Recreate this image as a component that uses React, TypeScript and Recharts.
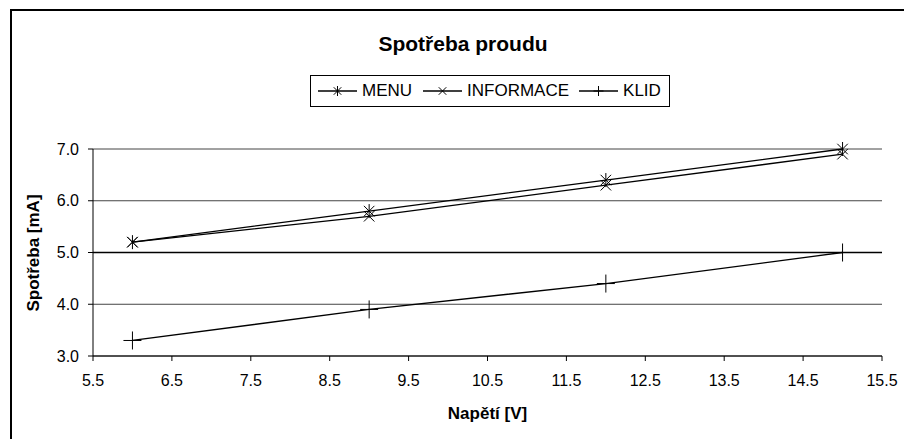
import {
  LineChart,
  Line,
  XAxis,
  YAxis,
  CartesianGrid,
  ReferenceLine,
} from "recharts";

const voltages = [6, 9, 12, 15];
const menuValues = [5.2, 5.8, 6.4, 7.0];
const infoValues = [5.2, 5.7, 6.3, 6.9];
const klidValues = [3.3, 3.9, 4.4, 5.0];
const xTicks = [5.5, 6.5, 7.5, 8.5, 9.5, 10.5, 11.5, 12.5, 13.5, 14.5, 15.5];
const yTicks = [3, 4, 5, 6, 7];

const data = voltages.map((v, i) => ({
  v,
  menu: menuValues[i],
  info: infoValues[i],
  klid: klidValues[i],
}));

const FONT = "'Liberation Sans', Arial, sans-serif";

type MarkerKind = "star" | "cross" | "plus";

const markerPath = (kind: MarkerKind, cx: number, cy: number, r: number) => {
  const d = r * 0.75;
  if (kind === "plus") return `M${cx - r},${cy}H${cx + r}M${cx},${cy - r}V${cy + r}`;
  if (kind === "cross")
    return `M${cx - d},${cy - d}L${cx + d},${cy + d}M${cx - d},${cy + d}L${cx + d},${cy - d}`;
  return `M${cx - d},${cy - d}L${cx + d},${cy + d}M${cx - d},${cy + d}L${cx + d},${cy - d}M${cx},${cy - r}V${cy + r}`;
};

const makeDot = (kind: MarkerKind) => (props: any) => {
  const { cx, cy, index } = props;
  if (cx == null || cy == null) return <g key={index} />;
  return (
    <path
      key={index}
      d={markerPath(kind, cx, cy, kind === "plus" ? 9 : 7)}
      stroke="#000"
      strokeWidth={1}
      fill="none"
    />
  );
};

// legend entries with the gap that follows each label
const legendItems: { name: string; kind: MarkerKind; gap: number }[] = [
  { name: "MENU", kind: "star", gap: 11 },
  { name: "INFORMACE", kind: "cross", gap: 10 },
  { name: "KLID", kind: "plus", gap: 0 },
];

const LegendBox = () => (
  <div
    style={{
      position: "absolute",
      left: 310,
      top: 75,
      border: "1px solid #000",
      display: "flex",
      alignItems: "center",
      height: 32,
      padding: "0 8px 0 7px",
      fontFamily: FONT,
      fontSize: 17,
      color: "#000",
      boxSizing: "border-box",
      background: "#fff",
    }}
  >
    {legendItems.map((it) => (
      <div key={it.name} style={{ display: "flex", alignItems: "center", marginRight: it.gap }}>
        <svg width={39} height={16} style={{ marginRight: 5 }}>
          <line x1={0} y1={8} x2={39} y2={8} stroke="#000" strokeWidth={1.3} />
          <path d={markerPath(it.kind, 19.5, 8, 5)} stroke="#000" fill="none" />
        </svg>
        <span>{it.name}</span>
      </div>
    ))}
  </div>
);

export default function App() {
  return (
    <div
      style={{
        position: "absolute",
        left: 0,
        top: 0,
        width: 904,
        height: 439,
        background: "#fff",
        overflow: "hidden",
      }}
    >
      <div
        style={{
          position: "absolute",
          left: 10,
          top: 9,
          width: 1000,
          height: 1000,
          borderLeft: "2px solid #000",
          borderTop: "2px solid #000",
        }}
      />
      <div
        style={{
          position: "absolute",
          left: 0,
          width: 926,
          top: 32,
          textAlign: "center",
          fontFamily: FONT,
          fontWeight: "bold",
          fontSize: 21,
        }}
      >
        Spotřeba proudu
      </div>
      <div style={{ position: "absolute", left: 34, top: 253, width: 0, height: 0 }}>
        <div
          style={{
            position: "absolute",
            left: 0,
            top: 0,
            transform: "translate(-50%, -50%) rotate(-90deg)",
            whiteSpace: "nowrap",
            fontFamily: FONT,
            fontWeight: "bold",
            fontSize: 17,
          }}
        >
          Spotřeba [mA]
        </div>
      </div>
      <div
        style={{
          position: "absolute",
          left: 93,
          width: 789,
          top: 404,
          textAlign: "center",
          fontFamily: FONT,
          fontWeight: "bold",
          fontSize: 17,
        }}
      >
        Napětí [V]
      </div>
      <div style={{ position: "absolute", left: 0, top: 0 }}>
        <LineChart
          width={904}
          height={439}
          data={data}
          margin={{ top: 149, right: 22, bottom: 0, left: 0 }}
        >
          <CartesianGrid vertical={false} stroke="#444" strokeWidth={1} />
          <XAxis
            dataKey="v"
            type="number"
            domain={[5.5, 15.5]}
            ticks={xTicks}
            tickFormatter={(t: number) => t.toFixed(1)}
            interval={0}
            stroke="#000"
            tickSize={5}
            tickMargin={14}
            height={83}
            tick={{ fill: "#000", fontSize: 16, fontFamily: FONT }}
          />
          <YAxis
            type="number"
            domain={[3, 7]}
            ticks={yTicks}
            tickFormatter={(t: number) => t.toFixed(1)}
            stroke="#000"
            tickSize={5}
            tickMargin={9}
            width={93}
            tick={{ fill: "#000", fontSize: 16, fontFamily: FONT }}
          />
          <ReferenceLine y={5} stroke="#000" strokeWidth={1.5} />
          <Line
            dataKey="menu"
            name="MENU"
            stroke="#000"
            strokeWidth={1.3}
            dot={makeDot("star")}
            isAnimationActive={false}
          />
          <Line
            dataKey="info"
            name="INFORMACE"
            stroke="#000"
            strokeWidth={1.3}
            dot={makeDot("cross")}
            isAnimationActive={false}
          />
          <Line
            dataKey="klid"
            name="KLID"
            stroke="#000"
            strokeWidth={1.3}
            dot={makeDot("plus")}
            isAnimationActive={false}
          />
        </LineChart>
      </div>
      <LegendBox />
    </div>
  );
}
